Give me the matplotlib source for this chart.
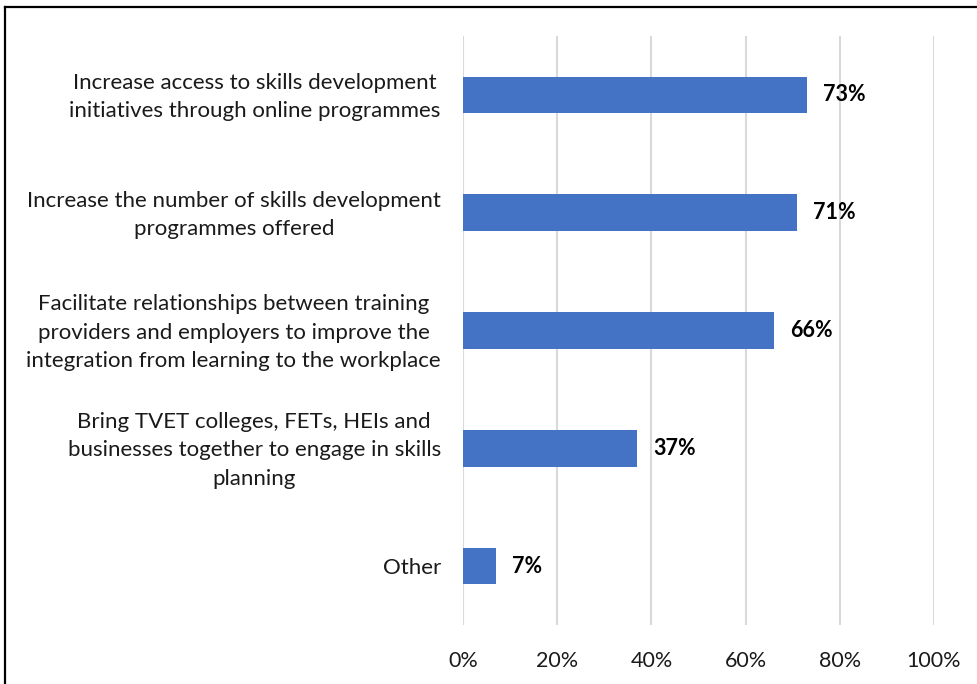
import matplotlib.pyplot as plt
from matplotlib.lines import Line2D
from matplotlib.transforms import ScaledTranslation

categories = [
    "Increase access to skills development\ninitiatives through online programmes",
    "Increase the number of skills development\nprogrammes offered",
    "Facilitate relationships between training\nproviders and employers to improve the\nintegration from learning to the workplace",
    "Bring TVET colleges, FETs, HEIs and\nbusinesses together to engage in skills\nplanning",
    "Other",
]
values = [73, 71, 66, 37, 7]
tick_values = [0, 20, 40, 60, 80, 100]
tick_labels = ["0%", "20%", "40%", "60%", "80%", "100%"]

plt.rcParams['font.family'] = ['Lato', 'DejaVu Sans']

W, H = 978, 684
fig = plt.figure(figsize=(W / 100, H / 100), dpi=100)
ax = fig.add_axes([463 / W, 1 - 625 / H, (934 - 463) / W, (625 - 36) / H])

pos = list(range(len(categories)))
ax.barh(pos, values, height=0.31, color="#4472C4", zorder=3)
ax.set_ylim(len(categories) - 0.5, -0.5)
ax.set_xlim(0, 100)

for p, v in zip(pos, values):
    ax.text(v + 3.4, p, f"{v}%", va="center", ha="left",
            fontsize=15.5, fontweight="bold", color="black")

ax.set_xticks(tick_values)
ax.set_xticklabels(tick_labels, fontsize=15.5, color="#1a1a1a")
ax.set_yticks(pos)
ax.set_yticklabels(categories, fontsize=16, color="#1a1a1a",
                   multialignment="center", linespacing=1.52)
ax.tick_params(axis="both", length=0)
ax.tick_params(axis="y", pad=16)
ax.tick_params(axis="x", pad=19)

# nudge wrapped category labels so their block sits centred on the bar
lift = ScaledTranslation(0, 4 / 100, fig.dpi_scale_trans)
for lbl in ax.get_yticklabels():
    if "\n" in lbl.get_text():
        lbl.set_transform(lbl.get_transform() + lift)

ax.grid(axis="x", color="#d9d9d9", linewidth=1.5, zorder=0)
for s in ax.spines.values():
    s.set_visible(False)

# outer frame
fig.add_artist(Line2D([4.5 / W, 1.0], [1 - 6.5 / H, 1 - 6.5 / H],
                      transform=fig.transFigure, color="black", linewidth=1.6))
fig.add_artist(Line2D([4.5 / W, 4.5 / W], [0.0, 1 - 6.5 / H],
                      transform=fig.transFigure, color="black", linewidth=1.6))

fig.savefig("out.png", dpi=100)
